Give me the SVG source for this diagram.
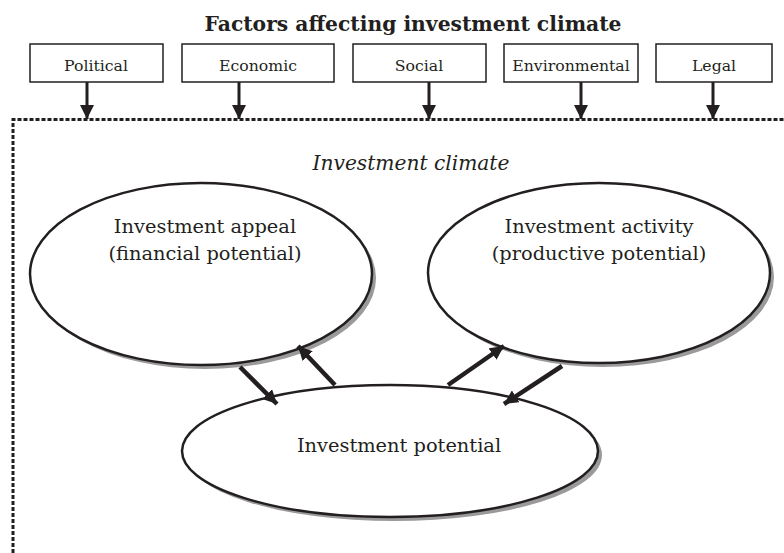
<svg xmlns="http://www.w3.org/2000/svg" width="784" height="553" viewBox="0 0 784 553">
<style>
text{font-family:"DejaVu Serif","Liberation Serif",serif;fill:#231f20;text-anchor:middle}
.box rect{fill:#fff;stroke:#231f20;stroke-width:1.5}
.box text{font-size:15.7px}
.ell .sh{fill:#9a9a9a;stroke:none}
.ell .fg{fill:#fff;stroke:#231f20;stroke-width:2.5}
.ell text{font-size:19.4px}
.conn line{stroke:#231f20;stroke-width:3}
.conn .thick{stroke-width:4.5}
.dot{fill:none;stroke:#231f20;stroke-width:3;stroke-dasharray:4 2}
</style>
<defs>
<marker id="ah" viewBox="0 0 10 10" refX="10" refY="5" markerWidth="14" markerHeight="14" markerUnits="userSpaceOnUse" orient="auto">
<path d="M0,0 L10,5 L0,10 Z" fill="#231f20"/>
</marker>
</defs>
<rect width="784" height="553" fill="#fff"/>
<text x="413" y="31" style="font-size:20.3px;font-weight:bold">Factors affecting investment climate</text>
<g id="political" class="box"><rect x="30" y="44" width="133" height="38"/><text x="96" y="71">Political</text></g>
<g id="economic" class="box"><rect x="182" y="44" width="152" height="38"/><text x="258" y="71">Economic</text></g>
<g id="social" class="box"><rect x="353" y="44" width="133" height="38"/><text x="419" y="71">Social</text></g>
<g id="environmental" class="box"><rect x="504" y="44" width="134" height="38"/><text x="571" y="71">Environmental</text></g>
<g id="legal" class="box"><rect x="656" y="44" width="116" height="38"/><text x="714" y="71">Legal</text></g>
<path class="dot" d="M13,553 V119.5 H784"/>
<text id="climate" x="411" y="170" style="font-size:20.2px;font-style:italic">Investment climate</text>
<g id="appeal" class="ell">
<ellipse class="sh" cx="205" cy="278" rx="171" ry="91"/>
<ellipse class="fg" cx="201" cy="274" rx="171" ry="91"/>
<text x="205" y="233">Investment appeal</text>
<text x="205" y="260">(financial potential)</text>
</g>
<g id="activity" class="ell">
<ellipse class="sh" cx="603" cy="277" rx="171" ry="90"/>
<ellipse class="fg" cx="599" cy="273" rx="171" ry="90"/>
<text x="599" y="233">Investment activity</text>
<text x="599" y="260">(productive potential)</text>
</g>
<g id="potential" class="ell">
<ellipse class="sh" cx="394" cy="455" rx="208" ry="66"/>
<ellipse class="fg" cx="390" cy="451" rx="208" ry="66"/>
<text x="399" y="452">Investment potential</text>
</g>
<g id="connectors" class="conn">
<line x1="87" y1="82" x2="87" y2="119" marker-end="url(#ah)"/>
<line x1="239" y1="82" x2="239" y2="119" marker-end="url(#ah)"/>
<line x1="429" y1="82" x2="429" y2="119" marker-end="url(#ah)"/>
<line x1="581" y1="82" x2="581" y2="119" marker-end="url(#ah)"/>
<line x1="713" y1="82" x2="713" y2="119" marker-end="url(#ah)"/>
<line class="thick" x1="240" y1="367" x2="277" y2="404" marker-end="url(#ah)"/>
<line class="thick" x1="335" y1="385" x2="298" y2="346" marker-end="url(#ah)"/>
<line class="thick" x1="448" y1="385" x2="504" y2="346" marker-end="url(#ah)"/>
<line class="thick" x1="562" y1="366" x2="504" y2="404" marker-end="url(#ah)"/>
</g>
</svg>
